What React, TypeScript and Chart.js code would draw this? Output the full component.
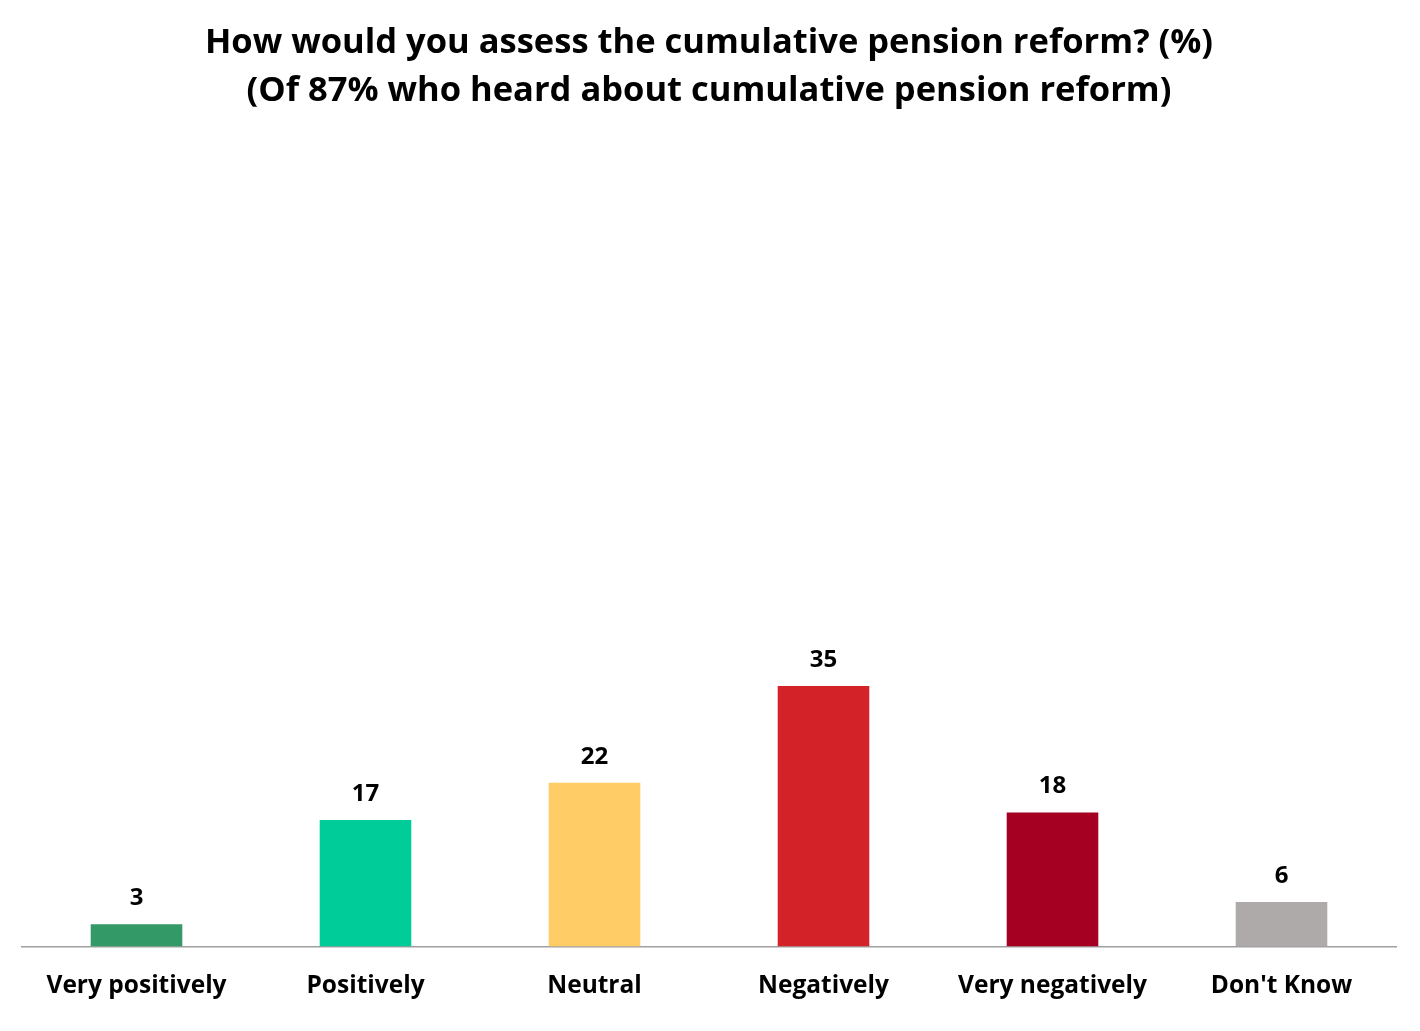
import React, { useEffect, useRef } from 'react';
import { Chart, registerables, Plugin } from 'chart.js';

Chart.register(...registerables);

// Chart data
const categories = ['Very positively', 'Positively', 'Neutral', 'Negatively', 'Very negatively', "Don't Know"];
const shares = [3, 17, 22, 35, 18, 6];
const barColors = ['#339966', '#00CC99', '#FFCC66', '#D42229', '#A50021', '#AEAAAA'];
const titleLines = [
  'How would you assess the cumulative pension reform? (%)',
  '(Of 87% who heard about cumulative pension reform)',
];

const FONT = '"Open Sans", Lato, sans-serif';

// Draws the value above each bar
const valueLabels: Plugin<'bar'> = {
  id: 'valueLabels',
  afterDatasetsDraw(chart) {
    const { ctx } = chart;
    const meta = chart.getDatasetMeta(0);
    ctx.save();
    ctx.font = `bold 24px ${FONT}`;
    ctx.fillStyle = '#000';
    ctx.textAlign = 'center';
    ctx.textBaseline = 'middle';
    meta.data.forEach((bar, i) => {
      const { x, y } = bar.getProps(['x', 'y'], true);
      ctx.fillText(String(shares[i]), x, y - 26);
    });
    ctx.restore();
  },
};

const App: React.FC = () => {
  const canvasRef = useRef<HTMLCanvasElement>(null);

  useEffect(() => {
    document.body.style.margin = '0';
    if (!canvasRef.current) return;
    const chart = new Chart(canvasRef.current, {
      type: 'bar',
      data: {
        labels: categories,
        datasets: [{
          data: shares,
          backgroundColor: barColors,
          borderWidth: 0,
          categoryPercentage: 1,
          barPercentage: 0.4,
        }],
      },
      options: {
        responsive: true,
        maintainAspectRatio: false,
        animation: false,
        layout: { padding: { left: 22, right: 24, top: 0, bottom: 5 } },
        plugins: {
          legend: { display: false },
          tooltip: { enabled: false },
          title: {
            display: true,
            text: titleLines,
            color: '#000',
            font: { family: FONT, size: 34.5, weight: 'bold', lineHeight: 1.39 },
            padding: { top: 19, bottom: 87 },
          },
        },
        scales: {
          x: {
            grid: { display: false, drawTicks: false },
            border: { display: true, color: '#A0A0A0', width: 1.5 },
            ticks: {
              color: '#000',
              padding: 25,
              font: { family: FONT, size: 24.5, weight: 'bold' },
            },
          },
          y: {
            display: false,
            min: 0,
            max: 100,
          },
        },
      },
      plugins: [valueLabels],
    });
    return () => chart.destroy();
  }, []);

  return (
    <div style={{ width: 1420, height: 1031, background: '#fff' }}>
      <canvas ref={canvasRef}></canvas>
    </div>
  );
};

export default App;
